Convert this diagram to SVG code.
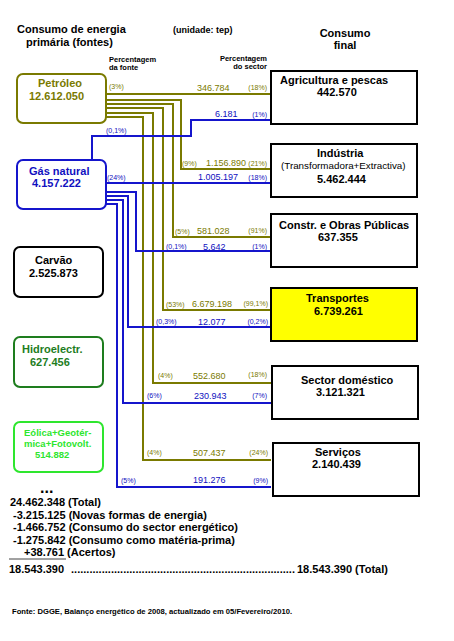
<svg xmlns="http://www.w3.org/2000/svg" width="454" height="641" viewBox="0 0 454 641">
<style>
text{font-family:"Liberation Sans",Arial,sans-serif;font-weight:bold}
.h{font-size:11px;fill:#000}
.pc{font-size:7.5px;fill:#000}
.ol{fill:#7a7a00}
.bl{fill:#1010c0}
.v{font-size:9px;font-weight:normal}
.p{font-size:7px;font-weight:normal}
.bx{fill:#fff;stroke:#000;stroke-width:2}
.cn path{fill:none;stroke-width:2}
.o{stroke:#7a7a00}
.b{stroke:#1515cc}
</style>
<rect width="454" height="641" fill="#fff"/>
<text class="h" x="17" y="33">Consumo de energia</text>
<text class="h" x="26" y="46">primária (fontes)</text>
<text x="173" y="33" style="font-size:9px">(unidade: tep)</text>
<text class="h" x="345" y="37" text-anchor="middle">Consumo</text>
<text class="h" x="345" y="49" text-anchor="middle">final</text>
<text class="pc" x="109" y="62">Percentagem</text>
<text class="pc" x="109" y="70">da fonte</text>
<text class="pc" x="267" y="61" text-anchor="end">Percentagem</text>
<text class="pc" x="267" y="69" text-anchor="end">do sector</text>

<g id="connectors" class="cn">
<path class="o" d="M106,94 H271"/>
<path class="o" d="M106,100 H181 V169 H271"/>
<path class="o" d="M106,104 H173 V237 H271"/>
<path class="o" d="M106,108 H163 V310 H271"/>
<path class="o" d="M106,113 H153 V383 H271"/>
<path class="o" d="M106,117 H143 V460 H271"/>
<path class="b" d="M92,160 V136 H191 V120 H271"/>
<path class="b" d="M106,183 H271"/>
<path class="b" d="M106,192 H136 V251 H271"/>
<path class="b" d="M106,196 H128 V327 H271"/>
<path class="b" d="M106,200 H123 V403 H271"/>
<path class="b" d="M106,204 H117 V487 H271"/>
</g>

<g id="labels">
<text class="ol p" x="109" y="89">(3%)</text>
<text class="ol v" x="197" y="91">346.784</text>
<text class="ol p" x="267" y="90" text-anchor="end">(18%)</text>
<text class="bl v" x="215" y="117">6.181</text>
<text class="bl p" x="267" y="117" text-anchor="end">(1%)</text>
<text class="bl p" x="106" y="133">(0,1%)</text>
<text class="ol p" x="182" y="166">(9%)</text>
<text class="ol v" x="206" y="166">1.156.890</text>
<text class="ol p" x="267" y="166" text-anchor="end">(21%)</text>
<text class="bl p" x="107" y="180">(24%)</text>
<text class="bl v" x="198" y="180">1.005.197</text>
<text class="bl p" x="267" y="180" text-anchor="end">(18%)</text>
<text class="ol p" x="175" y="234">(5%)</text>
<text class="ol v" x="197" y="234">581.028</text>
<text class="ol p" x="267" y="233" text-anchor="end">(91%)</text>
<text class="bl p" x="166" y="249">(0,1%)</text>
<text class="bl v" x="203" y="250">5.642</text>
<text class="bl p" x="267" y="249" text-anchor="end">(1%)</text>
<text class="ol p" x="166" y="307">(53%)</text>
<text class="ol v" x="192" y="307">6.679.198</text>
<text class="ol p" x="268" y="306" text-anchor="end">(99,1%)</text>
<text class="bl p" x="156" y="324">(0,3%)</text>
<text class="bl v" x="198" y="325">12.077</text>
<text class="bl p" x="268" y="324" text-anchor="end">(0,2%)</text>
<text class="ol p" x="158" y="378">(4%)</text>
<text class="ol v" x="193" y="379">552.680</text>
<text class="ol p" x="267" y="377" text-anchor="end">(18%)</text>
<text class="bl p" x="147" y="398">(6%)</text>
<text class="bl v" x="194" y="399">230.943</text>
<text class="bl p" x="267" y="398" text-anchor="end">(7%)</text>
<text class="ol p" x="147" y="455">(4%)</text>
<text class="ol v" x="193" y="456">507.437</text>
<text class="ol p" x="268" y="455" text-anchor="end">(24%)</text>
<text class="bl p" x="121" y="483">(5%)</text>
<text class="bl v" x="193" y="483">191.276</text>
<text class="bl p" x="268" y="483" text-anchor="end">(9%)</text>
</g>

<g id="petroleo">
<rect x="17" y="74" width="89" height="49" rx="6" fill="#fff" stroke="#7a7a00" stroke-width="2"/>
<text class="ol" x="38" y="87" style="font-size:11px">Petróleo</text>
<text class="ol" x="29" y="100" style="font-size:11px">12.612.050</text>
</g>
<g id="gas-natural">
<rect x="17" y="160" width="89" height="49" rx="6" fill="#fff" stroke="#1515cc" stroke-width="2"/>
<text class="bl" x="29" y="175" style="font-size:11px">Gás natural</text>
<text class="bl" x="32" y="187" style="font-size:11px">4.157.222</text>
</g>
<g id="carvao">
<rect x="14" y="247" width="89" height="50" rx="6" fill="#fff" stroke="#000" stroke-width="2"/>
<text class="h" x="35" y="264">Carvão</text>
<text class="h" x="29" y="277">2.525.873</text>
</g>
<g id="hidroelectr">
<rect x="14" y="337" width="89" height="50" rx="6" fill="#fff" stroke="#1e7d1e" stroke-width="2"/>
<text x="22" y="353" style="font-size:11px;fill:#1e7d1e">Hidroelectr.</text>
<text x="30" y="366" style="font-size:11px;fill:#1e7d1e">627.456</text>
</g>
<g id="eolica">
<rect x="14" y="422" width="89" height="50" rx="6" fill="#fff" stroke="#2ee62e" stroke-width="2"/>
<text x="24" y="436" style="font-size:9.5px;fill:#2ee62e">Eólica+Geotér-</text>
<text x="24" y="447" style="font-size:9.5px;fill:#2ee62e">mica+Fotovolt.</text>
<text x="35" y="458" style="font-size:9.5px;fill:#2ee62e">514.882</text>
</g>

<g id="agricultura">
<rect class="bx" x="271" y="71" width="146" height="53"/>
<text class="h" x="280" y="84">Agricultura e pescas</text>
<text class="h" x="317" y="96">442.570</text>
</g>
<g id="industria">
<rect class="bx" x="271" y="144" width="146" height="53"/>
<text class="h" x="317" y="157">Indústria</text>
<text x="281" y="169" style="font-size:9.8px;font-weight:normal">(Transformadora+Extractiva)</text>
<text class="h" x="317" y="183">5.462.444</text>
</g>
<g id="construcao">
<rect class="bx" x="271" y="214" width="146" height="53"/>
<text class="h" x="279" y="229">Constr. e Obras Públicas</text>
<text class="h" x="318" y="241">637.355</text>
</g>
<g id="transportes">
<rect x="271" y="288" width="146" height="53" fill="#ffff00" stroke="#000" stroke-width="2"/>
<text class="h" x="306" y="302">Transportes</text>
<text class="h" x="314" y="315">6.739.261</text>
</g>
<g id="domestico">
<rect class="bx" x="272" y="366" width="146" height="53"/>
<text class="h" x="301" y="384">Sector doméstico</text>
<text class="h" x="316" y="396">3.121.321</text>
</g>
<g id="servicos">
<rect class="bx" x="273" y="443" width="146" height="53"/>
<text class="h" x="315" y="456">Serviços</text>
<text class="h" x="312" y="468">2.140.439</text>
</g>

<g id="totais">
<text x="40" y="493" style="font-size:16px">...</text>
<text class="h" x="10" y="506">24.462.348 (Total)</text>
<text class="h" x="13" y="519">-3.215.125 (Novas formas de energia)</text>
<text class="h" x="13" y="531">-1.466.752 (Consumo do sector energético)</text>
<text class="h" x="13" y="544">-1.275.842 (Consumo como matéria-prima)</text>
<text class="h" x="24" y="556">+38.761 (Acertos)</text>
<line x1="9" y1="559" x2="66" y2="559" stroke="#444" stroke-width="1"/>
<text class="h" x="9" y="573">18.543.390</text>
<text class="h" x="71" y="573" textLength="224" lengthAdjust="spacing">.........................................................................</text>
<text class="h" x="297" y="573">18.543.390 (Total)</text>
<text x="12" y="614" style="font-size:7px" textLength="280" lengthAdjust="spacingAndGlyphs">Fonte: DGGE, Balanço energético de 2008,  actualizado em 05/Fevereiro/2010.</text>
</g>
</svg>
